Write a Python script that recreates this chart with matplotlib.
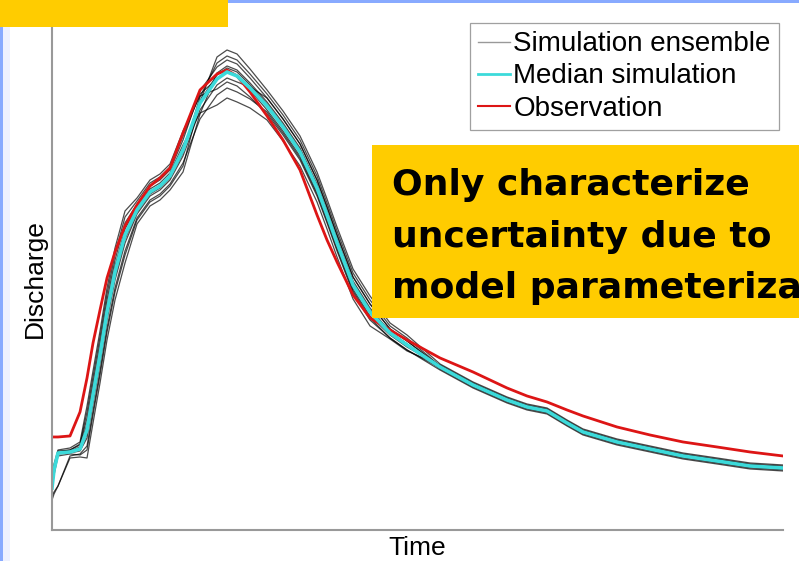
import matplotlib.pyplot as plt
from matplotlib.patches import Rectangle

# time axis (arbitrary units) shared by every series
t = [0, 2, 6, 18, 28, 35, 41, 48, 55, 63, 73, 85, 98, 108, 118, 131, 148, 165,
     175, 185, 198, 215, 231, 248, 265, 275, 285, 301, 318, 338, 355, 388, 421,
     455, 475, 495, 515, 531, 565, 598, 631, 665, 698, 731]

observation = [93, 93, 93, 94, 118, 152, 187, 220, 252, 278, 304, 325, 344, 352,
               362, 397, 440, 456, 460, 454, 438, 414, 390, 360, 315, 290, 268,
               235, 212, 200, 190, 172, 158, 142, 134, 128, 120, 114, 103, 95,
               88, 83, 78, 74]

median_sim = [42, 60, 77, 78, 81, 100, 135, 175, 218, 258, 295, 320, 338, 344,
              354, 380, 427, 451, 458, 454, 442, 424, 403, 378, 342, 315, 287,
              245, 218, 197, 185, 163, 145, 130, 123, 119, 107, 98, 88, 81, 74,
              69, 64, 62]

ens_a = [42, 55, 74, 76, 75, 80, 115, 155, 198, 238, 275, 310, 328, 334, 344,
         364, 428, 473, 480, 476, 461, 440, 419, 394, 358, 331, 303, 261, 234,
         207, 195, 166, 148, 133, 126, 122, 110, 101, 91, 84, 77, 72, 67, 65]
ens_b = [44, 62, 79, 80, 85, 112, 147, 187, 230, 270, 307, 326, 344, 350, 360,
         390, 439, 463, 470, 466, 452, 432, 411, 386, 350, 323, 295, 253, 226,
         201, 189, 164, 146, 131, 124, 120, 108, 99, 89, 82, 75, 70, 65, 63]
ens_c = [34, 38, 44, 72, 73, 72, 107, 147, 190, 230, 267, 306, 324, 330, 340,
         358, 416, 457, 464, 460, 447, 428, 407, 382, 346, 319, 291, 249, 222,
         198, 186, 161, 143, 128, 121, 117, 105, 96, 86, 79, 72, 67, 62, 60]
ens_d = [42, 62, 78, 80, 86, 118, 153, 193, 236, 276, 313, 329, 347, 353, 363,
         394, 436, 451, 458, 454, 440, 420, 399, 374, 338, 311, 283, 241, 214,
         195, 183, 164, 146, 131, 124, 120, 108, 99, 89, 82, 75, 70, 65, 63]
ens_e = [42, 58, 76, 77, 79, 92, 127, 167, 210, 250, 287, 316, 334, 340, 350,
         374, 420, 445, 452, 448, 443, 432, 411, 386, 350, 323, 295, 253, 226,
         201, 189, 163, 145, 130, 123, 119, 107, 98, 88, 81, 74, 69, 64, 62]
ens_f = [46, 66, 80, 82, 88, 124, 159, 199, 242, 282, 319, 332, 350, 356, 366,
         399, 434, 441, 448, 444, 433, 416, 395, 370, 334, 307, 279, 237, 210,
         192, 180, 162, 144, 129, 122, 118, 106, 97, 87, 80, 73, 68, 63, 61]
ens_g = [30, 36, 44, 74, 76, 84, 119, 159, 202, 242, 279, 312, 330, 336, 346,
         367, 411, 435, 442, 438, 431, 418, 397, 372, 336, 309, 281, 239, 212,
         192, 180, 160, 142, 127, 120, 116, 104, 95, 85, 78, 71, 66, 61, 59]
ens_h = [42, 60, 78, 79, 83, 106, 141, 181, 224, 264, 301, 323, 341, 347, 357,
         385, 417, 425, 432, 428, 422, 410, 389, 364, 328, 301, 273, 231, 204,
         191, 179, 165, 147, 132, 125, 121, 109, 100, 90, 83, 76, 71, 66, 64]
ens_i = [42, 60, 77, 78, 81, 100, 135, 175, 218, 258, 295, 320, 338, 344, 354,
         380, 429, 455, 462, 458, 445, 426, 405, 380, 344, 317, 289, 247, 220,
         198, 186, 162, 144, 129, 122, 118, 106, 97, 87, 80, 73, 68, 63, 61]
ens_j = [42, 60, 77, 78, 80, 96, 131, 171, 214, 254, 291, 318, 336, 342, 352,
         377, 433, 467, 474, 470, 456, 436, 415, 390, 354, 327, 299, 257, 230,
         204, 192, 164, 146, 131, 124, 120, 108, 99, 89, 82, 75, 70, 65, 63]

ensemble = [ens_a, ens_b, ens_c, ens_d, ens_e, ens_f, ens_g, ens_h, ens_i, ens_j]

note_lines = ["Only characterize", "uncertainty due to", "model parameterization"]

plt.rcParams['font.family'] = ['Liberation Sans', 'DejaVu Sans']

fig = plt.figure(figsize=(7.99, 5.61), dpi=100)
ax = fig.add_axes([0.0651, 0.0553, 0.9149, 0.8966])

for member in ensemble:
    ax.plot(t, member, color='black', lw=0.9, alpha=0.7)
ax.plot(t, observation, color='#dd1515', lw=2.0)
ax.plot(t, median_sim, color='#3cdada', lw=2.6)

ax.set_xlim(0, 731)
ax.set_ylim(0, 503)
ax.set_xticks([])
ax.set_yticks([])
for side in ['top', 'right']:
    ax.spines[side].set_visible(False)
for side in ['left', 'bottom']:
    ax.spines[side].set_color('#999999')
    ax.spines[side].set_linewidth(1.5)

ax.set_xlabel('Time', fontsize=19, labelpad=4)
ax.set_ylabel('Discharge', fontsize=19, labelpad=4)

ens_handle = plt.Line2D([], [], color='#999999', lw=1.0)
obs_handle = plt.Line2D([], [], color='#dd1515', lw=1.5)
med_handle = plt.Line2D([], [], color='#3cdada', lw=2.0)
leg = ax.legend([ens_handle, med_handle, obs_handle],
                ['Simulation ensemble', 'Median simulation', 'Observation'],
                loc='upper left', bbox_to_anchor=(0.572, 1.008), fontsize=20,
                frameon=True, fancybox=False, edgecolor='#888888',
                handlelength=1.15, handletextpad=0.1, borderpad=0.3,
                labelspacing=0.22, borderaxespad=0)
leg.get_frame().set_linewidth(0.9)

# slide decorations
fig.add_artist(Rectangle((0, 0.9519), 0.2854, 0.0481, transform=fig.transFigure,
                         facecolor='#ffcc00', edgecolor='none'))
fig.add_artist(Rectangle((0.2854, 0.9947), 0.7146, 0.0053, transform=fig.transFigure,
                         facecolor='#88aaff', edgecolor='none'))
fig.add_artist(Rectangle((0, 0), 0.0038, 0.9519, transform=fig.transFigure,
                         facecolor='#88aaff', edgecolor='none'))
fig.add_artist(Rectangle((0.0038, 0), 0.009, 0.9519, transform=fig.transFigure,
                         facecolor='#eef1ff', edgecolor='none'))

fig.add_artist(Rectangle((0.4656, 0.4332), 0.5344, 0.3083, transform=fig.transFigure,
                         facecolor='#ffcc00', edgecolor='none', zorder=3))
for i, line in enumerate(note_lines):
    fig.text(0.4906, 0.6524 - i * 0.0918, line, fontsize=26, fontweight='bold',
             family='DejaVu Sans', va='baseline', ha='left', zorder=4)

fig.savefig('out.png', dpi=100)
